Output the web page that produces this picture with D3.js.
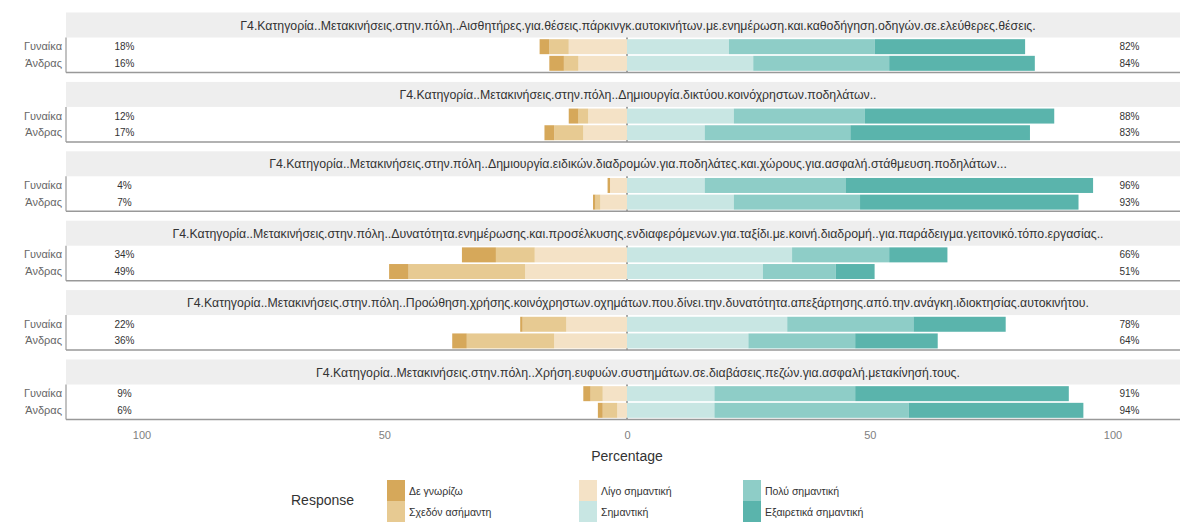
<!DOCTYPE html>
<html><head><meta charset="utf-8">
<script src="https://cdn.jsdelivr.net/npm/d3@7"></script>
<style>body{margin:0;background:#fff}svg{display:block;font-family:"Liberation Sans",Arial,sans-serif}</style>
</head><body><svg id="c" width="1180" height="522"></svg>
<script>
const items = [
 "Γ4.Κατηγορία..Μετακινήσεις.στην.πόλη..Αισθητήρες.για.θέσεις.πάρκινγκ.αυτοκινήτων.με.ενημέρωση.και.καθοδήγηση.οδηγών.σε.ελεύθερες.θέσεις.",
 "Γ4.Κατηγορία..Μετακινήσεις.στην.πόλη..Δημιουργία.δικτύου.κοινόχρηστων.ποδηλάτων..",
 "Γ4.Κατηγορία..Μετακινήσεις.στην.πόλη..Δημιουργία.ειδικών.διαδρομών.για.ποδηλάτες.και.χώρους.για.ασφαλή.στάθμευση.ποδηλάτων...",
 "Γ4.Κατηγορία..Μετακινήσεις.στην.πόλη..Δυνατότητα.ενημέρωσης.και.προσέλκυσης.ενδιαφερόμενων.για.ταξίδι.με.κοινή.διαδρομή..για.παράδειγμα.γειτονικό.τόπο.εργασίας..",
 "Γ4.Κατηγορία..Μετακινήσεις.στην.πόλη..Προώθηση.χρήσης.κοινόχρηστων.οχημάτων.που.δίνει.την.δυνατότητα.απεξάρτησης.από.την.ανάγκη.ιδιοκτησίας.αυτοκινήτου.",
 "Γ4.Κατηγορία..Μετακινήσεις.στην.πόλη..Χρήση.ευφυών.συστημάτων.σε.διαβάσεις.πεζών.για.ασφαλή.μετακίνησή.τους."
];
const groups = ["Γυναίκα","Άνδρας"];
const levels = ["Δε γνωρίζω","Σχεδόν ασήμαντη","Λίγο σημαντική","Σημαντική","Πολύ σημαντική","Εξαιρετικά σημαντική"];
const colors = ["#D6A85A","#E7CA92","#F4E2C6","#C8E6E3","#8ECDC7","#5AB4AC"];
// values per item, order: [Γυναίκα, Άνδρας]
const deGnorizo      = [[2,3],[2,2],[0.5,0.5],[7,4],[0.5,3],[1.5,1]];
const sxedonAsimanti = [[4,3],[2,6],[0,1],[8,24],[9,18],[2.5,3]];
const ligoSimantiki  = [[12,10],[8,9],[3.5,5.5],[19,21],[12.5,15],[5,2]];
const simantiki      = [[21,26],[22,16],[16,22],[34,28],[33,25],[18,18]];
const polySimantiki  = [[30,28],[27,30],[29,26],[20,15],[26,22],[29,40]];
const exairetika     = [[31,30],[39,37],[51,45],[12,8],[19,17],[44,36]];
const xTicks = [-100,-50,0,50,100];

const series = [deGnorizo,sxedonAsimanti,ligoSimantiki,simantiki,polySimantiki,exairetika];
const svg = d3.select("#c");
const x = d3.scaleLinear().domain([-100,100]).range([141.5,1112.5]);
const panelLeft = 66, stripCenter = 638;
const P0 = 12.5, period = 69.4, stripH = 25, areaH = 35;

items.forEach((item,i)=>{
  const top = P0 + i*period;
  const g = svg.append("g");
  g.append("rect").attr("x",panelLeft).attr("y",top).attr("width",1180-panelLeft).attr("height",stripH).attr("fill","#EEEEEE");
  g.append("text").attr("x",stripCenter).attr("y",top+stripH/2+4.5).attr("text-anchor","middle")
    .attr("font-size",12.3).attr("fill","#333").text(item);
  const a0 = top+stripH, a1 = a0+areaH;
  const y = d3.scaleBand().domain(groups).range([a0,a1]).paddingInner(0.1).paddingOuter(0.1);
  // zero line
  g.append("line").attr("x1",x(0)).attr("x2",x(0)).attr("y1",a0).attr("y2",a1).attr("stroke","#444").attr("stroke-width",1);
  groups.forEach((grp,j)=>{
    const v = series.map(s=>s[i][j]);
    let cum = 0;
    [2,1,0].forEach(k=>{
      g.append("rect").attr("x",x(-(cum+v[k]))).attr("width",x(0)-x(-v[k])).attr("y",y(grp)).attr("height",y.bandwidth()).attr("fill",colors[k]);
      cum += v[k];
    });
    const neg = cum;
    cum = 0;
    [3,4,5].forEach(k=>{
      g.append("rect").attr("x",x(cum)).attr("width",x(v[k])-x(0)).attr("y",y(grp)).attr("height",y.bandwidth()).attr("fill",colors[k]);
      cum += v[k];
    });
    const pos = cum;
    const cy = y(grp)+y.bandwidth()/2+3.5;
    g.append("text").attr("x",x(-103.5)).attr("y",cy).attr("text-anchor","middle").attr("font-size",10).attr("fill","#333").text(Math.round(neg)+"%");
    g.append("text").attr("x",x(103.5)).attr("y",cy).attr("text-anchor","middle").attr("font-size",10).attr("fill","#333").text(Math.round(pos)+"%");
    g.append("text").attr("x",62).attr("y",cy).attr("text-anchor","end").attr("font-size",11).attr("fill","#666").text(grp);
  });
  g.append("line").attr("x1",panelLeft).attr("x2",panelLeft).attr("y1",a0).attr("y2",a1).attr("stroke","#999").attr("stroke-width",1.2);
  g.append("line").attr("x1",panelLeft).attr("x2",1180).attr("y1",a1).attr("y2",a1).attr("stroke","#999").attr("stroke-width",1.5);
});

const axisY = P0 + 5*period + stripH + areaH;
const ax = svg.append("g").attr("transform",`translate(0,${axisY})`)
  .call(d3.axisBottom(x).tickValues(xTicks).tickFormat(d=>Math.abs(d)).tickSize(0).tickPadding(12));
ax.select(".domain").remove();
ax.selectAll("text").attr("font-size",11).attr("fill","#808080").attr("font-family","Liberation Sans, Arial, sans-serif");
svg.append("text").attr("x",x(0)).attr("y",axisY+41).attr("text-anchor","middle").attr("font-size",14).attr("fill","#333").text("Percentage");

const legCols = [387,579,743], legRows = [480,501];
svg.append("text").attr("x",291).attr("y",505).attr("font-size",14).attr("fill","#333").text("Response");
levels.forEach((lv,k)=>{
  const cx = legCols[Math.floor(k/2)], ry = legRows[k%2];
  svg.append("rect").attr("x",cx).attr("y",ry).attr("width",18).attr("height",21).attr("fill",colors[k]);
  svg.append("text").attr("x",cx+22).attr("y",ry+14.5).attr("font-size",10.5).attr("fill","#333").text(lv);
});
</script></body></html>
